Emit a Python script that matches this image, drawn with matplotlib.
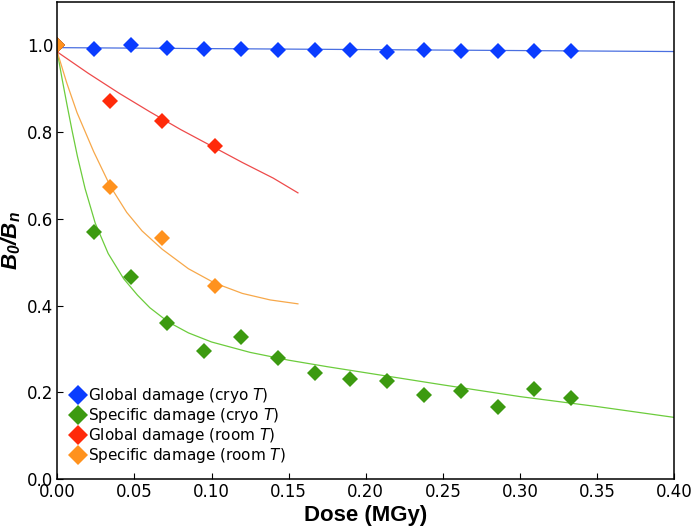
"""B0/Bn vs absorbed dose: global vs specific damage at cryo and room temperature."""
import matplotlib
matplotlib.use("Agg")
import matplotlib.pyplot as plt

# measured points
dose_cryo = [0.0, 0.024, 0.048, 0.071, 0.095, 0.119, 0.143, 0.167, 0.190,
             0.214, 0.238, 0.262, 0.286, 0.309, 0.333]
global_cryo = [1.0, 0.993, 1.000, 0.994, 0.993, 0.992, 0.990, 0.989, 0.990,
               0.986, 0.990, 0.988, 0.988, 0.987, 0.988]
specific_cryo = [1.0, 0.570, 0.465, 0.360, 0.295, 0.328, 0.280, 0.245, 0.230,
                 0.226, 0.194, 0.203, 0.166, 0.208, 0.186]
dose_room = [0.0, 0.034, 0.068, 0.102]
global_room = [1.0, 0.872, 0.825, 0.768]
specific_room = [1.0, 0.673, 0.555, 0.445]

# fitted curves
fit_global_cryo_x = [0.0, 0.40]
fit_global_cryo_y = [0.995, 0.986]
fit_specific_cryo_x = [0.0, 0.003, 0.0063, 0.0095, 0.013, 0.018, 0.0246, 0.033,
                       0.043, 0.052, 0.060, 0.072, 0.085, 0.100, 0.125, 0.150,
                       0.175, 0.200, 0.250, 0.300, 0.350, 0.400]
fit_specific_cryo_y = [0.985, 0.925, 0.863, 0.805, 0.745, 0.670, 0.590, 0.520,
                       0.462, 0.424, 0.395, 0.362, 0.337, 0.316, 0.292, 0.274,
                       0.259, 0.245, 0.217, 0.190, 0.167, 0.142]
fit_global_room_x = [0.0, 0.02, 0.04, 0.06, 0.08, 0.10, 0.12, 0.14, 0.156]
fit_global_room_y = [0.985, 0.936, 0.890, 0.847, 0.806, 0.768, 0.730, 0.694, 0.660]
fit_specific_room_x = [0.0, 0.006, 0.0128, 0.0236, 0.0344, 0.045, 0.055, 0.068,
                       0.085, 0.102, 0.120, 0.138, 0.156]
fit_specific_room_y = [0.985, 0.915, 0.845, 0.755, 0.675, 0.615, 0.572, 0.530,
                       0.485, 0.452, 0.428, 0.413, 0.404]

plt.rcParams["mathtext.fontset"] = "custom"
plt.rcParams["mathtext.bfit"] = "Liberation Sans:italic:bold"
plt.rcParams["mathtext.it"] = "DejaVu Sans:italic"
plt.rcParams["mathtext.rm"] = "DejaVu Sans"

fig = plt.figure(figsize=(6.92, 5.31), dpi=100)
ax = fig.add_axes([0.0828, 0.098, 0.8916, 0.898])

ax.plot(fit_global_cryo_x, fit_global_cryo_y, color="#4a6fe0", lw=0.9)
ax.plot(fit_specific_cryo_x, fit_specific_cryo_y, color="#6ccc3c", lw=0.9)
ax.plot(fit_global_room_x, fit_global_room_y, color="#ee4a4a", lw=0.9)
ax.plot(fit_specific_room_x, fit_specific_room_y, color="#f7a84a", lw=0.9)

mk = dict(marker="D", ls="none", ms=7.8, mew=0)
ax.plot(dose_cryo, global_cryo, color="#0a3cff", label="Global damage (cryo $T$)", **mk)
ax.plot(dose_cryo, specific_cryo, color="#3c9a10", label="Specific damage (cryo $T$)", **mk)
ax.plot(dose_room, global_room, color="#ff2a0a", label="Global damage (room $T$)", **mk)
ax.plot(dose_room, specific_room, color="#ff921e", label="Specific damage (room $T$)", **mk)

ax.set_xlim(0, 0.40)
ax.set_ylim(0, 1.1)
ax.set_xticks([0.0, 0.05, 0.10, 0.15, 0.20, 0.25, 0.30, 0.35, 0.40])
ax.set_yticks([0.0, 0.2, 0.4, 0.6, 0.8, 1.0])
ax.xaxis.set_major_formatter(matplotlib.ticker.FormatStrFormatter("%.2f"))
ax.yaxis.set_major_formatter(matplotlib.ticker.FormatStrFormatter("%.1f"))
ax.tick_params(direction="in", length=4.5, width=0.8, labelsize=12, pad=3)
for s in ax.spines.values():
    s.set_linewidth(1.1)

ax.set_xlabel("Dose (MGy)", family="Liberation Sans", weight="bold", fontsize=16, labelpad=3)
ax.set_ylabel(r"$\mathbfit{B_0/B_n}$", fontsize=16, labelpad=3)

ax.legend(loc="lower left", frameon=False, fontsize=11, handlelength=0.9,
          handletextpad=0.2, labelspacing=0.07, borderaxespad=0.5,
          markerscale=1.3, bbox_to_anchor=(0.0, 0.0))

fig.savefig("out.png", dpi=100)
